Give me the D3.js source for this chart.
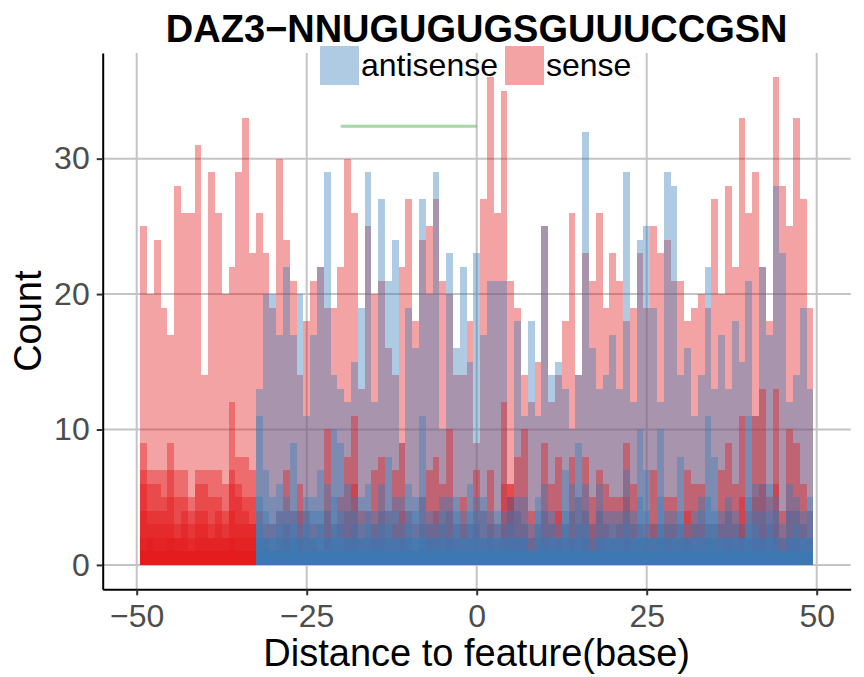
<!DOCTYPE html>
<html>
<head>
<meta charset="utf-8">
<script src="https://cdn.jsdelivr.net/npm/d3@7"></script>
<style>
body { margin: 0; background: #fff; }
text { font-family: "Liberation Sans", Arial, sans-serif; }
</style>
</head>
<body>
<script>

// distance to feature, one bin per base
var positions = d3.range(-49, 50);

var strands = ['antisense', 'sense'];
var strandColors = {antisense: '#377EB8', sense: '#E41A1C'};

// tallest bar per base
var senseMain = [
    25,20,24,19,17,28,26,26,31,14,29,26,20,22,29,33,23,
    26,23,19,30,24,21,14,
    18,21,22,19,19,22,30,26,13,25,20,21,16,14,22,27,18,24,25,27,21,20,14,14,18,
    9,27,36,26,35,21,19,14,12,15,25,12,14,18,26,14,23,21,26,19,23,21,18,19,23,19,
    25,23,24,21,21,18,19,20,19,27,20,28,22,33,26,29,22,18,36,28,25,33,27,19
];
var antisenseMain = [
    0,0,0,0,0,0,0,0,0,0,0,0,0,0,0,0,0,
    13,20,20,17,22,17,20,
    11,17,22,29,14,13,12,15,19,29,12,27,21,24,9,19,16,27,20,29,10,23,16,22,15,
    23,17,21,21,21,5,18,11,18,11,25,14,15,13,10,14,32,16,13,14,17,13,29,12,24,25,
    19,12,29,28,14,16,11,14,22,13,17,13,18,15,21,11,22,17,28,23,12,14,19,13
];

// smaller overlapping bars per base
var senseLow1 = [
    9,7,7,7,9,7,7,5,7,7,7,7,6,12,8,8,7,
    4,3,3,4,7,4,6,
    4,3,3,10,3,5,8,11,4,4,7,8,4,7,9,4,3,5,7,8,6,10,3,5,3,
    7,4,7,3,12,6,8,10,4,3,9,6,8,3,8,5,8,5,7,6,5,5,9,6,3,3,
    7,3,5,5,3,7,6,6,3,3,7,9,6,11,4,11,13,5,13,4,10,9,6,4
];
var senseLow2 = [
    7,6,6,5,7,5,5,4,6,6,5,5,4,7,6,5,5,
    2,2,1,2,3,2,4,
    2,2,1,4,2,3,4,6,2,2,3,4,2,3,4,2,1,3,3,4,3,4,2,3,2,
    3,2,3,2,6,5,4,3,2,2,4,3,4,2,4,3,4,3,4,3,2,3,5,3,2,2,
    3,2,3,3,2,4,3,3,2,2,3,4,3,5,2,5,6,3,6,2,4,4,3,2
];
var senseLow3 = [
    6,4,4,4,5,3,4,3,4,4,3,4,3,6,5,4,3,
    1,1,1,1,2,1,2,
    1,1,1,2,1,1,2,3,1,1,2,2,1,1,2,1,1,1,2,2,1,2,1,1,1,
    1,1,2,1,3,6,2,2,1,1,2,1,2,1,2,1,2,1,2,1,1,1,2,1,1,1,
    1,1,2,1,1,2,1,1,1,1,1,2,1,3,1,2,3,1,3,1,2,2,1,1
];
var senseLow4 = [
    4,3,3,3,3,2,3,2,3,3,2,3,2,4,3,3,3,
    0,0,0,0,0,0,0,
    0,0,0,0,0,0,0,0,0,0,0,0,0,0,0,0,0,0,0,0,0,0,0,0,0,
    0,0,0,0,0,5,0,0,0,0,0,0,0,0,0,0,0,0,0,0,0,0,0,0,0,0,
    0,0,0,0,0,0,0,0,0,0,0,0,0,0,0,0,0,0,0,0,0,0,0,0
];
var senseLow5 = [
    2,2,2,2,2,2,2,1,2,2,2,2,2,2,2,2,2,
    0,0,0,0,0,0,0,
    0,0,0,0,0,0,0,0,0,0,0,0,0,0,0,0,0,0,0,0,0,0,0,0,0,
    0,0,0,0,0,0,0,0,0,0,0,0,0,0,0,0,0,0,0,0,0,0,0,0,0,0,
    0,0,0,0,0,0,0,0,0,0,0,0,0,0,0,0,0,0,0,0,0,0,0,0
];
var senseLow6 = [
    1,2,1,1,2,1,1,1,1,1,1,1,1,2,1,1,1,
    0,0,0,0,0,0,0,
    0,0,0,0,0,0,0,0,0,0,0,0,0,0,0,0,0,0,0,0,0,0,0,0,0,
    0,0,0,0,0,0,0,0,0,0,0,0,0,0,0,0,0,0,0,0,0,0,0,0,0,0,
    0,0,0,0,0,0,0,0,0,0,0,0,0,0,0,0,0,0,0,0,0,0,0,0
];
var senseLow7 = [
    1,1,1,1,1,1,1,1,1,1,1,1,1,1,1,1,1,
    0,0,0,0,0,0,0,
    0,0,0,0,0,0,0,0,0,0,0,0,0,0,0,0,0,0,0,0,0,0,0,0,0,
    0,0,0,0,0,0,0,0,0,0,0,0,0,0,0,0,0,0,0,0,0,0,0,0,0,0,
    0,0,0,0,0,0,0,0,0,0,0,0,0,0,0,0,0,0,0,0,0,0,0,0
];
var antisenseLow1 = [
    0,0,0,0,0,0,0,0,0,0,0,0,0,0,0,0,0,
    11,7,5,6,5,9,4,
    5,5,7,6,10,9,6,5,5,6,4,6,8,5,5,6,5,11,4,4,5,5,5,4,6,
    5,5,4,4,4,5,5,5,3,5,6,4,3,7,6,9,6,3,6,4,4,4,7,4,10,7,
    3,10,4,4,8,3,4,5,11,8,4,5,4,3,11,6,6,6,5,3,6,5,4,5
];
var antisenseLow2 = [
    0,0,0,0,0,0,0,0,0,0,0,0,0,0,0,0,0,
    5,4,3,4,4,4,3,
    4,4,4,4,5,4,4,4,3,4,3,4,4,4,3,4,4,5,3,3,4,4,4,3,4,
    4,4,3,3,3,4,4,3,2,4,4,3,2,4,4,5,4,2,4,3,3,3,4,3,5,4,
    2,5,3,3,4,2,3,4,5,4,3,4,3,2,5,4,4,4,4,2,4,4,3,4
];
var antisenseLow3 = [
    0,0,0,0,0,0,0,0,0,0,0,0,0,0,0,0,0,
    3,2,2,3,3,3,2,
    3,2,3,2,3,3,2,3,2,3,2,3,3,2,2,3,2,3,2,2,3,2,3,2,3,
    3,2,2,2,2,3,2,2,1,3,2,2,2,3,2,3,3,1,2,2,2,2,3,2,3,2,
    2,3,2,2,3,2,2,2,3,3,2,2,2,2,3,3,2,3,2,1,2,3,2,2
];
var antisenseLow4 = [
    0,0,0,0,0,0,0,0,0,0,0,0,0,0,0,0,0,
    2,2,2,2,2,2,2,
    2,2,2,2,2,2,2,2,2,2,2,2,2,2,2,2,2,2,2,2,2,2,2,2,2,
    2,2,2,2,2,2,2,2,1,2,2,2,2,2,2,2,2,1,2,2,2,2,2,2,2,2,
    2,2,2,2,2,2,2,2,2,2,2,2,2,2,2,2,2,2,2,1,2,2,2,2
];
var antisenseLow5 = [
    0,0,0,0,0,0,0,0,0,0,0,0,0,0,0,0,0,
    2,1,1,1,1,2,1,
    1,1,1,1,2,1,1,1,1,1,1,1,1,1,1,1,1,2,1,1,1,1,1,1,1,
    1,1,1,1,1,1,1,1,1,1,1,1,1,1,1,1,1,1,1,1,1,1,1,1,2,1,
    1,2,1,1,1,1,1,1,2,1,1,1,1,1,2,1,1,1,1,1,1,1,1,1
];
var antisenseLow6 = [
    0,0,0,0,0,0,0,0,0,0,0,0,0,0,0,0,0,
    1,1,1,1,1,1,1,
    1,1,1,1,1,1,1,1,1,1,1,1,1,1,1,1,1,1,1,1,1,1,1,1,1,
    1,1,1,1,1,1,1,1,1,1,1,1,1,1,1,1,1,1,1,1,1,1,1,1,1,1,
    1,1,1,1,1,1,1,1,1,1,1,1,1,1,1,1,1,1,1,1,1,1,1,1
];

// motif segment
var motifStart = -20, motifEnd = 0, motifLevel = 32.4;

var xTicks = [-50, -25, 0, 25, 50];
var yTicks = [0, 10, 20, 30];

function drawChart(d3) {

    var width = 864,
        height = 677;

    var x = d3.scaleLinear().domain([-55, 55]).range([102.7, 850.7]);
    var y = d3.scaleLinear().domain([-1.8, 37.8]).range([589.3, 53]);

    var svg = d3.select('body').append('svg')
        .attr('width', width)
        .attr('height', height);

    // grid
    var grid = svg.append('g');
    grid.selectAll('.gx')
        .data(xTicks)
        .enter().append('line')
        .attr('x1', function(d) { return x(d); })
        .attr('x2', function(d) { return x(d); })
        .attr('y1', y.range()[1])
        .attr('y2', y.range()[0])
        .attr('stroke', '#c4c4c4')
        .attr('stroke-width', 2);
    grid.selectAll('.gy')
        .data(yTicks)
        .enter().append('line')
        .attr('x1', x.range()[0])
        .attr('x2', x.range()[1])
        .attr('y1', function(d) { return y(d); })
        .attr('y2', function(d) { return y(d); })
        .attr('stroke', '#c4c4c4')
        .attr('stroke-width', 2);

    // layers in drawing order
    var layers = [
        {strand: 'sense', values: senseMain},
        {strand: 'antisense', values: antisenseMain},
        {strand: 'sense', values: senseLow1},
        {strand: 'sense', values: senseLow2},
        {strand: 'sense', values: senseLow3},
        {strand: 'sense', values: senseLow4},
        {strand: 'sense', values: senseLow5},
        {strand: 'sense', values: senseLow6},
        {strand: 'sense', values: senseLow7},
        {strand: 'antisense', values: antisenseLow1},
        {strand: 'antisense', values: antisenseLow2},
        {strand: 'antisense', values: antisenseLow3},
        {strand: 'antisense', values: antisenseLow4},
        {strand: 'antisense', values: antisenseLow5},
        {strand: 'antisense', values: antisenseLow6}
    ];

    var bars = svg.append('g').attr('shape-rendering', 'crispEdges');
    layers.forEach(function(layer) {
        var rows = layer.values
            .map(function(v, i) { return {pos: positions[i], count: v}; })
            .filter(function(d) { return d.count > 0; });
        bars.append('g').selectAll('rect')
            .data(rows)
            .enter().append('rect')
            .attr('x', function(d) { return x(d.pos - 0.5); })
            .attr('width', function(d) { return x(d.pos + 0.5) - x(d.pos - 0.5); })
            .attr('y', function(d) { return y(d.count); })
            .attr('height', function(d) { return y(0) - y(d.count); })
            .attr('fill', strandColors[layer.strand])
            .attr('fill-opacity', 0.4);
    });

    svg.append('line')
        .attr('x1', x(motifStart))
        .attr('x2', x(motifEnd))
        .attr('y1', y(motifLevel))
        .attr('y2', y(motifLevel))
        .attr('stroke', '#4DAF4A')
        .attr('stroke-opacity', 0.5)
        .attr('stroke-width', 3);

    // axes
    var xAxis = d3.axisBottom(x).tickValues(xTicks).tickSize(6).tickSizeOuter(0).tickPadding(9);
    var yAxis = d3.axisLeft(y).tickValues(yTicks).tickSize(6).tickSizeOuter(0).tickPadding(7);

    var gx = svg.append('g')
        .attr('transform', 'translate(0,' + y.range()[0] + ')')
        .call(xAxis);
    var gy = svg.append('g')
        .attr('transform', 'translate(' + x.range()[0] + ',0)')
        .call(yAxis);

    [gx, gy].forEach(function(g) {
        g.select('.domain').attr('stroke', '#000').attr('stroke-width', 2);
        g.selectAll('.tick line').attr('stroke', '#333').attr('stroke-width', 2);
        g.selectAll('.tick text')
            .attr('fill', '#4d4d4d')
            .attr('font-size', 32)
            .attr('font-family', '"Liberation Sans", Arial, sans-serif');
    });

    svg.append('text')
        .attr('text-anchor', 'middle')
        .attr('x', (x.range()[0] + x.range()[1]) / 2)
        .attr('y', 666)
        .attr('font-size', 38)
        .text('Distance to feature(base)');

    svg.append('text')
        .attr('text-anchor', 'middle')
        .attr('transform', 'translate(41,' + (y.range()[0] + y.range()[1]) / 2 + ')rotate(-90)')
        .attr('font-size', 38)
        .text('Count');

    svg.append('text')
        .attr('text-anchor', 'middle')
        .attr('x', (x.range()[0] + x.range()[1]) / 2)
        .attr('y', 42)
        .attr('font-size', 38)
        .attr('font-weight', 'bold')
        .text('DAZ3\u2212NNUGUGUGSGUUUCCGSN');

    // legend
    var legendX = [320, 505];
    var legend = svg.append('g');
    var item = legend.selectAll('g')
        .data(strands)
        .enter().append('g')
        .attr('transform', function(d, i) { return 'translate(' + legendX[i] + ',46)'; });
    item.append('rect')
        .attr('width', 39)
        .attr('height', 39)
        .attr('fill', function(d) { return strandColors[d]; })
        .attr('fill-opacity', 0.4);
    item.append('text')
        .attr('x', 41)
        .attr('y', 30)
        .attr('font-size', 32)
        .text(function(d) { return d; });
}

drawChart(window.d3);

</script>
</body>
</html>
